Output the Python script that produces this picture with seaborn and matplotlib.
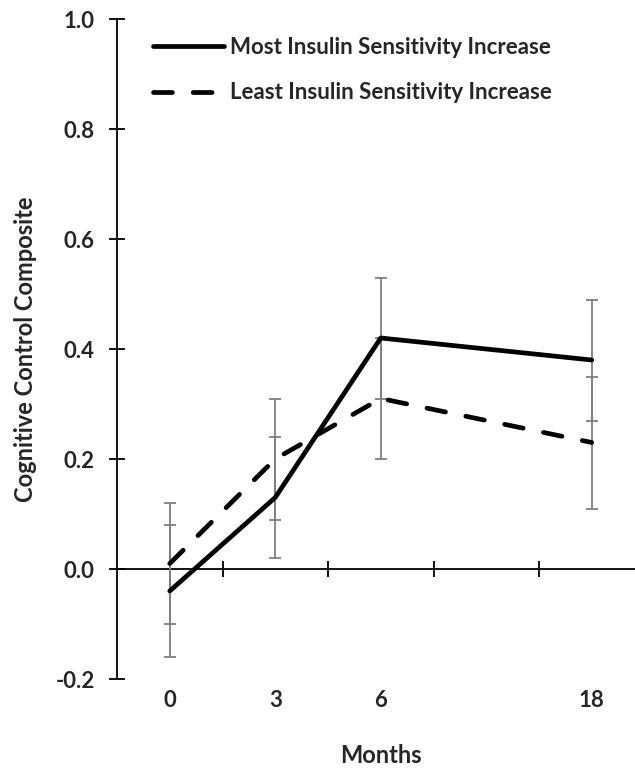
import matplotlib
matplotlib.use("Agg")
import matplotlib.pyplot as plt
import seaborn as sns
import pandas as pd
import numpy as np

# ---- data ----
axis_slots = [0, 3, 6, 12, 18]          # category slots on the Excel-style axis
slot_labels = ["0", "3", "6", "", "18"]
months = [0, 3, 6, 18]
groups = ["Most Insulin Sensitivity Increase", "Least Insulin Sensitivity Increase"]
most_mean = [-0.04, 0.13, 0.42, 0.38]
most_err = [0.12, 0.11, 0.11, 0.11]
least_mean = [0.01, 0.20, 0.31, 0.23]
least_err = [0.11, 0.11, 0.11, 0.12]
y_ticks = [-0.2, 0.0, 0.2, 0.4, 0.6, 0.8, 1.0]

sns.set_theme(style="white")
plt.rcParams["font.family"] = ["Lato", "DejaVu Sans"]
plt.rcParams["font.weight"] = "bold"

rows = []
for g, means, errs in [(groups[0], most_mean, most_err), (groups[1], least_mean, least_err)]:
    for m, v, e in zip(months, means, errs):
        rows.append({"group": g, "pos": axis_slots.index(m), "value": v, "err": e})
df = pd.DataFrame(rows)

W, H = 635, 771
fig = plt.figure(figsize=(W / 100, H / 100), dpi=100)
left, right, top, bottom = 117, 644.5, 19, 679
ax = fig.add_axes([left / W, (H - bottom) / H, (right - left) / W, (bottom - top) / H])

# error bars (behind)
for g in groups:
    sub = df[df.group == g]
    ax.errorbar(sub["pos"], sub["value"], yerr=sub["err"], fmt="none",
                ecolor="#7f7f7f", elinewidth=1.3, capsize=4, capthick=1.3, zorder=2)

sns.lineplot(data=df, x="pos", y="value", style="group", style_order=groups,
             dashes={groups[0]: "", groups[1]: (4.0, 4.4)}, color="black",
             linewidth=3.4, ax=ax, legend=True, zorder=3)
for ln in ax.lines:
    ln.set_dash_capstyle("round")
    ln.set_solid_capstyle("round")

ax.set_xlim(-0.5, 4.5)
ax.set_ylim(-0.2, 1.0)

# spines
for s in ["top", "right", "bottom"]:
    ax.spines[s].set_visible(False)
ax.spines["left"].set_color("black")
ax.spines["left"].set_linewidth(1.3)

# y ticks
ax.set_yticks(y_ticks)
ax.set_yticklabels([f"{t:.1f}" for t in y_ticks], fontsize=16, fontweight="bold")
ax.tick_params(axis="y", direction="inout", length=12, width=1.3, color="black", pad=10, left=True)

# x labels at bottom
ax.set_xticks(range(len(axis_slots)))
ax.set_xticklabels(slot_labels, fontsize=16, fontweight="bold")
ax.tick_params(axis="x", length=0, pad=8, bottom=True)

# axis line at y=0 with boundary ticks
sec = ax.secondary_xaxis((0 - (-0.2)) / 1.2)
sec.set_xticks(np.arange(len(axis_slots) - 1) + 0.5)
sec.set_xticklabels([])
sec.tick_params(direction="inout", length=12, width=1.3, color="black")
sec.spines["bottom"].set_linewidth(1.3)
sec.spines["bottom"].set_color("black")

ax.set_xlabel("Months", fontsize=17, fontweight="bold", labelpad=24)
ax.set_ylabel("Cognitive Control Composite", fontsize=17, fontweight="bold", labelpad=13)

h, l = ax.get_legend_handles_labels()
for hh in h:
    hh.set_linewidth(3.4)
    hh.set_color("black")
    hh.set_dash_capstyle("round")
    hh.set_solid_capstyle("round")
leg = fig.legend(h, l, loc="upper left", bbox_to_anchor=(133 / W, 1 - 17 / H),
                 frameon=False, handlelength=3.2, handletextpad=0.27,
                 labelspacing=1.1, prop={"weight": "bold", "size": 16})
if ax.get_legend():
    ax.get_legend().remove()

fig.savefig("out.png", dpi=100)
